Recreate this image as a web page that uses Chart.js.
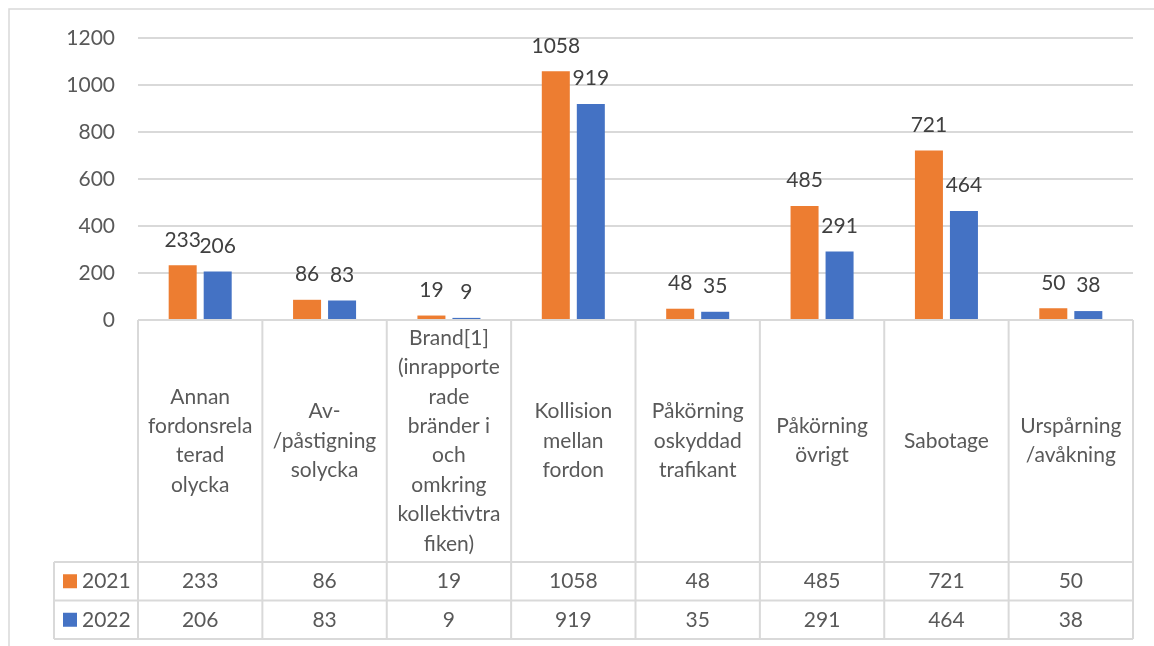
<!DOCTYPE html>
<html>
<head>
<meta charset="utf-8">
<script src="https://cdn.jsdelivr.net/npm/chart.js@4.4.1/dist/chart.umd.min.js"></script>
<style>
  html, body { margin: 0; padding: 0; background: #fff; }
  #wrap { width: 1154px; height: 646px; position: relative; }
</style>
</head>
<body>
<div id="wrap"><canvas id="chart"></canvas></div>
<script>
// Categories (already wrapped the way the table shows them)
const categories = [
  ['Annan', 'fordonsrela', 'terad', 'olycka'],
  ['Av-', '/påstigning', 'solycka'],
  ['Brand[1]', '(inrapporte', 'rade', 'bränder i', 'och', 'omkring', 'kollektivtra', 'fiken)'],
  ['Kollision', 'mellan', 'fordon'],
  ['Påkörning', 'oskyddad', 'trafikant'],
  ['Påkörning', 'övrigt'],
  ['Sabotage'],
  ['Urspårning', '/avåkning']
];
const seriesNames = ['2021', '2022'];
const values2021 = [233, 86, 19, 1058, 48, 485, 721, 50];
const values2022 = [206, 83, 9, 919, 35, 291, 464, 38];
const seriesColors = ['#ED7D31', '#4472C4'];

const FONT = 'Lato, "Open Sans", sans-serif';
const GRID = '#d9d9d9';
const TEXT = '#595959';

// Sizes of the data table under the plot
const labelCellH = 242;
const rowH = 38.5;
const legendLeft = 54;

// Light frame round the whole chart
const framePlugin = {
  id: 'frame',
  beforeDraw(chart) {
    const ctx = chart.ctx;
    ctx.save();
    ctx.strokeStyle = GRID;
    ctx.lineWidth = 1.5;
    ctx.beginPath();
    ctx.moveTo(9, chart.height);
    ctx.lineTo(9, 9);
    ctx.lineTo(chart.width, 9);
    ctx.stroke();
    ctx.restore();
  }
};

// Value labels above each bar
const barLabels = {
  id: 'barLabels',
  afterDatasetsDraw(chart) {
    const ctx = chart.ctx;
    ctx.save();
    ctx.font = '21px ' + FONT;
    ctx.fillStyle = '#404040';
    ctx.textAlign = 'center';
    ctx.textBaseline = 'middle';
    chart.data.datasets.forEach((ds, i) => {
      chart.getDatasetMeta(i).data.forEach((bar, j) => {
        ctx.fillText(String(ds.data[j]), bar.x, bar.y - 25.5);
      });
    });
    ctx.restore();
  }
};

// Data table: category cells, legend keys and values
const dataTable = {
  id: 'dataTable',
  afterDraw(chart) {
    const { ctx, chartArea: a } = chart;
    const n = chart.data.labels.length;
    const cw = (a.right - a.left) / n;
    const top = a.bottom;
    const row1 = top + labelCellH;
    const row2 = row1 + rowH;
    const bottom = row2 + rowH;

    ctx.save();
    ctx.strokeStyle = GRID;
    ctx.lineWidth = 2;
    ctx.beginPath();
    // horizontal lines
    ctx.moveTo(a.left, top); ctx.lineTo(a.right, top);
    [row1, row2, bottom].forEach(y => { ctx.moveTo(legendLeft, y); ctx.lineTo(a.right, y); });
    // vertical lines
    for (let i = 0; i <= n; i++) {
      const x = a.left + i * cw;
      ctx.moveTo(x, top); ctx.lineTo(x, bottom);
    }
    ctx.moveTo(legendLeft, row1); ctx.lineTo(legendLeft, bottom);
    ctx.stroke();

    ctx.font = '21px ' + FONT;
    ctx.fillStyle = TEXT;
    ctx.textAlign = 'center';
    ctx.textBaseline = 'middle';
    const lh = 29.4;
    chart.data.labels.forEach((lines, i) => {
      const cx = chart.scales.x.getPixelForValue(i);
      const midY = (top + row1) / 2;
      const startY = midY - (lines.length - 1) * lh / 2;
      lines.forEach((t, k) => ctx.fillText(t, cx, startY + k * lh));
    });

    chart.data.datasets.forEach((ds, r) => {
      const cy = row1 + rowH * r + rowH / 2;
      ctx.fillStyle = ds.backgroundColor;
      ctx.fillRect(63, cy - 7, 14, 14);
      ctx.fillStyle = TEXT;
      ctx.textAlign = 'left';
      ctx.fillText(ds.label, 82, cy);
      ctx.textAlign = 'center';
      ds.data.forEach((v, j) => {
        ctx.fillText(String(v), chart.scales.x.getPixelForValue(j), cy);
      });
    });
    ctx.restore();
  }
};

new Chart(document.getElementById('chart'), {
  type: 'bar',
  data: {
    labels: categories,
    datasets: [
      { label: seriesNames[0], data: values2021, backgroundColor: seriesColors[0] },
      { label: seriesNames[1], data: values2022, backgroundColor: seriesColors[1] }
    ]
  },
  options: {
    responsive: true,
    maintainAspectRatio: false,
    animation: false,
    categoryPercentage: 0.563,
    barPercentage: 0.8,
    layout: { padding: { top: 38, left: 0, right: 21, bottom: 646 - 320 } },
    plugins: {
      legend: { display: false },
      tooltip: { enabled: false }
    },
    scales: {
      x: { display: false },
      y: {
        min: 0,
        max: 1200,
        afterFit: s => { s.width = 138; },
        border: { display: false },
        grid: { color: GRID, lineWidth: 2, drawTicks: false },
        ticks: {
          stepSize: 200,
          padding: 23,
          color: TEXT,
          font: { family: FONT, size: 21 },
          callback: v => String(v)
        }
      }
    }
  },
  plugins: [framePlugin, barLabels, dataTable]
});
</script>
</body>
</html>
